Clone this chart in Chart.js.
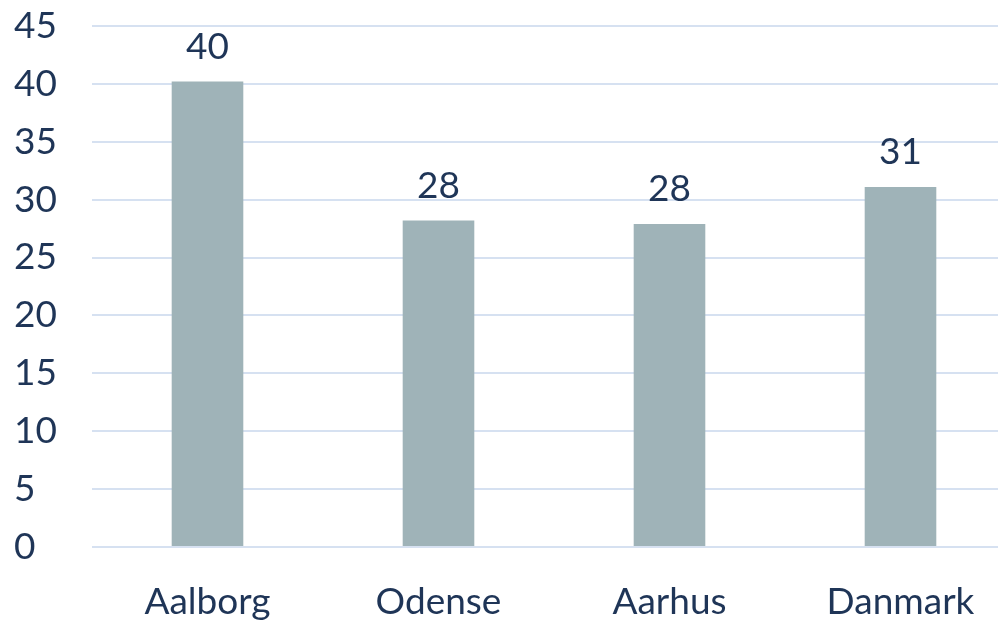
<!DOCTYPE html>
<html>
<head>
<meta charset="utf-8">
<script src="https://cdn.jsdelivr.net/npm/chart.js@4.4.0/dist/chart.umd.min.js"></script>
<style>
  html, body { margin: 0; padding: 0; background: #fff; overflow: hidden; }
  #wrap { position: absolute; left: 0; top: 0; width: 1016px; height: 647px; }
</style>
</head>
<body>
<div id="wrap"><canvas id="myChart"></canvas></div>
<script>
const categories = ['Aalborg', 'Odense', 'Aarhus', 'Danmark'];
const values = [40.2, 28.2, 27.9, 31.1];
const valueLabels = ['40', '28', '28', '31'];

const textColor = '#1F3557';
const gridColor = '#D6E1F1';

// Tal over søjlerne
const valueLabelPlugin = {
    id: 'valueLabels',
    afterDatasetsDraw(chart) {
        const c = chart.ctx;
        const meta = chart.getDatasetMeta(0);
        c.save();
        c.font = '37px Lato';
        c.fillStyle = textColor;
        c.textAlign = 'center';
        c.textBaseline = 'alphabetic';
        meta.data.forEach((bar, i) => {
            c.fillText(valueLabels[i], bar.x, bar.y - 23);
        });
        c.restore();
    }
};

const ctx = document.getElementById('myChart').getContext('2d');
new Chart(ctx, {
    type: 'bar',
    data: {
        labels: categories,
        datasets: [{
            data: values,
            backgroundColor: '#9FB3B8',
            categoryPercentage: 1,
            barPercentage: 0.31
        }]
    },
    options: {
        responsive: true,
        maintainAspectRatio: false,
        animation: false,
        layout: { padding: { top: 26, left: 14, right: 0, bottom: 0 } },
        plugins: {
            legend: { display: false },
            tooltip: { enabled: false }
        },
        scales: {
            x: {
                grid: { display: false },
                border: { display: false },
                ticks: {
                    color: textColor,
                    font: { family: 'Lato', size: 37 },
                    padding: 25
                },
                afterFit(axis) { axis.height = 100; }
            },
            y: {
                min: 0,
                max: 45,
                grid: {
                    color: gridColor,
                    lineWidth: 2,
                    drawTicks: false
                },
                border: { display: false },
                ticks: {
                    stepSize: 5,
                    color: textColor,
                    font: { family: 'Lato', size: 37 },
                    crossAlign: 'far',
                    padding: 0
                },
                afterFit(axis) { axis.width = 78; }
            }
        }
    },
    plugins: [valueLabelPlugin]
});
</script>
</body>
</html>
